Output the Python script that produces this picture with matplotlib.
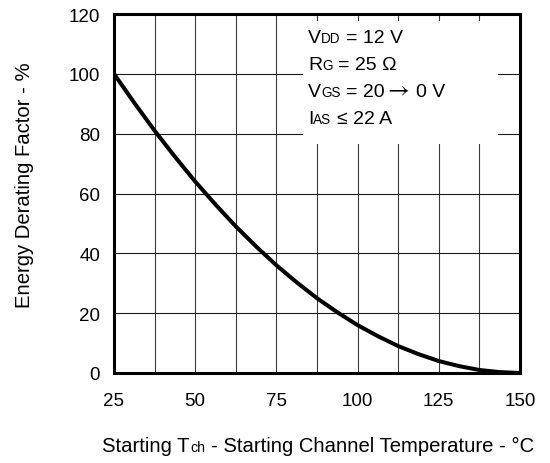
import matplotlib
matplotlib.use("Agg")
import matplotlib.pyplot as plt
from matplotlib.font_manager import FontProperties
from matplotlib.patches import Rectangle

FAM = ["Liberation Sans", "DejaVu Sans"]
plt.rcParams["font.family"] = FAM
plt.rcParams["mathtext.fontset"] = "stix"

# ---- data ----
temperature = [25, 31.25, 37.5, 43.75, 50, 56.25, 62.5, 68.75, 75, 81.25, 87.5,
               93.75, 100, 106.25, 112.5, 118.75, 125, 131.25, 137.5, 143.75, 150]
derating = [100, 90.3, 81, 72.3, 64, 56.3, 49, 42.3, 36, 30.3, 25,
            20.3, 16, 12.3, 9, 6.3, 4, 2.3, 1, 0.3, 0]
x_ticks = [25, 50, 75, 100, 125, 150]
y_ticks = [0, 20, 40, 60, 80, 100, 120]
x_grid = [37.5, 50, 62.5, 75, 87.5, 100, 112.5, 125, 137.5]
y_grid = [20, 40, 60, 80, 100]
# part kinds: m = main, s = small subscript, a = arrow (mathtext)
conditions = [
    [("V", "m"), ("DD", "s"), (" ", "m"), ("= 12 V", "m")],
    [("R", "m"), ("G", "s"), (" ", "m"), ("= 25 \u03a9", "m")],
    [("V", "m"), ("GS", "s"), (" ", "m"), ("= 20", "m"),
     (r"$\rightarrow$", "a"), (" ", "m"), ("0 V", "m")],
    [("I", "m"), ("AS", "s"), (" ", "m"), ("\u2264 22 A", "m")],
]
xlabel_parts = [("Starting T", "m"), ("ch", "s"), (" ", "m"),
                ("- Starting Channel Temperature - \u00b0C", "m")]
ylabel = "Energy Derating Factor - %"

W, H = 550, 464
fig = plt.figure(figsize=(W / 100, H / 100), dpi=100)
L, R, T, B = 114, 520, 15, 374
ax = fig.add_axes([L / W, 1 - B / H, (R - L) / W, (B - T) / H])
ax.set_xlim(25, 150)
ax.set_ylim(0, 120)

for xv in x_grid:
    ax.axvline(xv, color="#3a3a3a", lw=0.8, zorder=1)
for yv in y_grid:
    ax.axhline(yv, color="#1a1a1a", lw=0.8, zorder=1)

# white box behind the conditions
ax.add_patch(Rectangle((83.2, 76.6), 60.0, 41.2, facecolor="white",
                       edgecolor="none", zorder=2))

ax.plot(temperature, derating, color="black", lw=2.9, zorder=3,
        solid_capstyle="butt")

for s in ax.spines.values():
    s.set_linewidth(2.2)
    s.set_color("black")
    s.set_zorder(5)

ax.set_xticks(x_ticks)
ax.set_xticklabels([str(v) for v in x_ticks])
ax.set_yticks(y_ticks)
ax.set_yticklabels([str(v) for v in y_ticks])
ax.tick_params(axis="both", length=0, labelsize=13.5)
ax.tick_params(axis="x", pad=14)
ax.tick_params(axis="y", pad=10)

fig.canvas.draw()
renderer = fig.canvas.get_renderer()


def adv(s, size, math=False):
    fp = FontProperties(family=FAM, size=size)
    if math:
        w, _, _ = renderer.get_text_width_height_descent(s, fp, ismath=True)
        return w
    w1, _, _ = renderer.get_text_width_height_descent("|" + s + "|", fp, ismath=False)
    w0, _, _ = renderer.get_text_width_height_descent("||", fp, ismath=False)
    return w1 - w0


def draw_rich(x_px, y_px, parts, main, sub, arrow=17, center=False):
    specs = []
    for t, k in parts:
        size = {"m": main, "s": sub, "a": arrow}[k]
        specs.append((t, size, k == "a"))
    total = sum(adv(t, sz, mt) for t, sz, mt in specs)
    x = x_px - total / 2 if center else x_px
    for t, sz, mt in specs:
        if t.strip():
            yy = y_px - (1.5 if mt else 0)
            fig.text(x / W, 1 - yy / H, t, fontsize=sz, ha="left",
                     va="baseline", family=FAM, zorder=6)
        x += adv(t, sz, mt)


baselines = [43, 70, 97, 124]
for parts, yb in zip(conditions, baselines):
    draw_rich(308, yb, parts, 14, 9.8)

draw_rich((L + R) / 2 + 1, 452, xlabel_parts, 14.6, 10.2, center=True)

fig.text(24 / W, 1 - 185 / H, ylabel, rotation=90, fontsize=14.6,
         ha="center", va="center", family=FAM)

fig.savefig("out.png", dpi=100)
